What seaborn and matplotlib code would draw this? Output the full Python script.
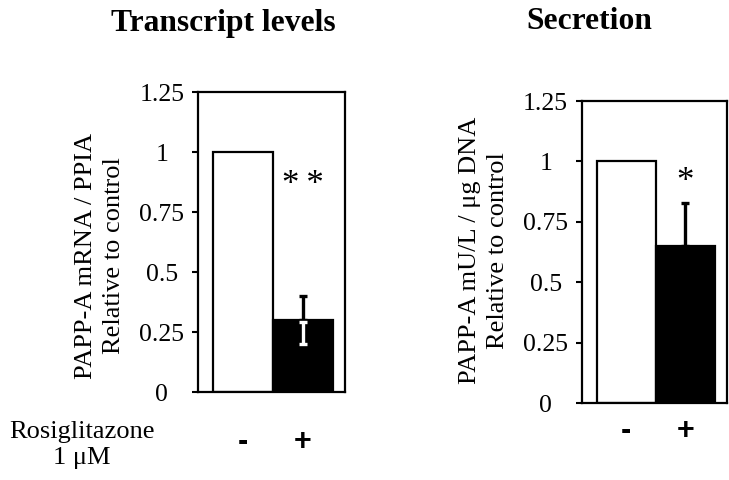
import numpy as np
import pandas as pd
import matplotlib
matplotlib.use("Agg")
import matplotlib.pyplot as plt
import seaborn as sns

# values (relative to control)
conditions = ["-", "+"]
transcript_means = [1.0, 0.30]
transcript_err = [0.0, 0.10]
secretion_means = [1.0, 0.65]
secretion_err = [0.0, 0.18]
bar_colors = ["white", "black"]
yticks = [0, 0.25, 0.5, 0.75, 1, 1.25]
ytick_labels = ["0", "0.25", "0.5", "0.75", "1", "1.25"]

sns.set_style("ticks")
plt.rcParams['font.family'] = ['Liberation Serif', 'DejaVu Serif']
plt.rcParams['text.color'] = 'black'
plt.rcParams['axes.labelcolor'] = 'black'
plt.rcParams['xtick.color'] = 'black'
plt.rcParams['ytick.color'] = 'black'

fig = plt.figure(figsize=(7.29, 4.8), dpi=100)
ax1 = fig.add_axes([0.2716, 0.1833, 0.2016, 0.625])
ax2 = fig.add_axes([0.798, 0.1604, 0.199, 0.629])


def draw_panel(ax, means, err, ylabel, stars, star_y, label_y, xpad, with_white_err):
    df = pd.DataFrame({"cond": conditions, "val": means})
    sns.barplot(data=df, x="cond", y="val", hue="cond", palette=bar_colors,
                edgecolor="black", linewidth=1.6, width=1.0, legend=False, ax=ax)
    pos = np.arange(len(conditions))
    means = np.array(means)
    err = np.array(err)
    # upper error bar (black), only for treated
    ax.errorbar(pos[1:], means[1:], yerr=[np.zeros(1), err[1:]], fmt="none",
                ecolor="black", elinewidth=2.4, capsize=3.2, capthick=2.4, zorder=5)
    if with_white_err:
        ax.errorbar(pos[1:], means[1:] - 0.01, yerr=[err[1:] - 0.01, np.zeros(1)], fmt="none",
                    ecolor="white", elinewidth=2.4, capsize=3.2, capthick=2.4, zorder=5)
    ax.text(pos[1], star_y, stars, ha="center", va="center", fontsize=25)

    ax.set_ylim(0, 1.25)
    ax.set_xlim(-0.75, 1.7)
    ax.set_yticks(yticks)
    ax.set_yticklabels(ytick_labels, fontsize=18.5, ha="center")
    ax.tick_params(axis="y", length=4, width=1.5, pad=22, direction="out")
    ax.tick_params(axis="x", length=0, pad=xpad)
    for lab in ax.get_xticklabels():
        lab.set_fontfamily("Liberation Sans")
        lab.set_fontweight("bold")
        lab.set_fontsize(22)
    ax.set_xlabel("")
    ax.set_ylabel(ylabel, fontsize=19, linespacing=1.35)
    ax.yaxis.set_label_coords(-0.50, label_y)
    for s in ax.spines.values():
        s.set_visible(True)
        s.set_linewidth(1.6)
        s.set_color("black")


draw_panel(ax1, transcript_means, transcript_err,
           "PAPP-A mRNA / PPIA\nRelative to control", "*\u2009*", 0.86, 0.455, 25, True)
draw_panel(ax2, secretion_means, secretion_err,
           "PAPP-A mU/L / μg DNA\nRelative to control", "*", 0.915, 0.506, 9, False)

fig.text(0.307, 0.95, "Transcript levels", ha="center", va="center",
         fontsize=22.7, fontweight="bold")
fig.text(0.808, 0.956, "Secretion", ha="center", va="center",
         fontsize=22.7, fontweight="bold")
fig.text(0.112, 0.073, "Rosiglitazone\n1 μM", ha="center", va="center",
         fontsize=19, linespacing=1.2)

fig.savefig("out.png", dpi=100)
